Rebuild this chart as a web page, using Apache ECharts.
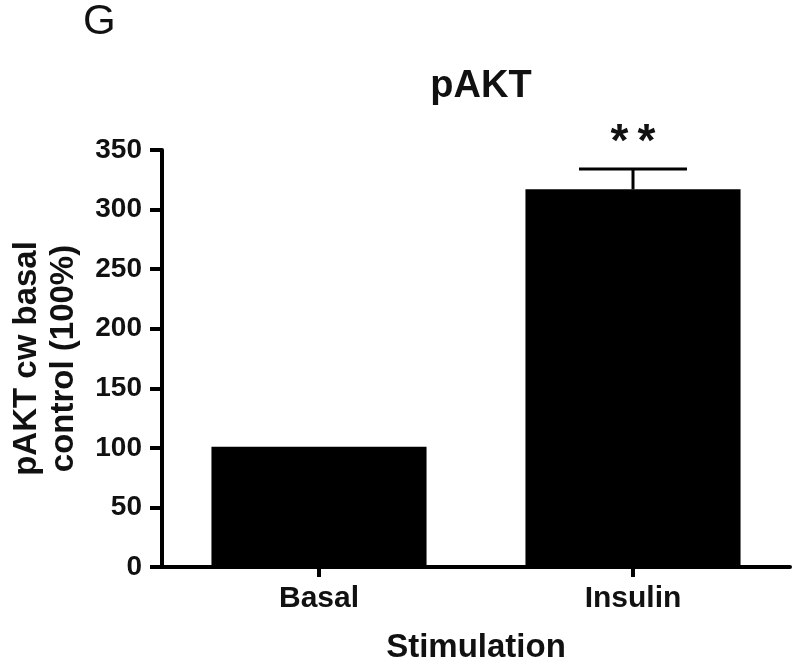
<!DOCTYPE html>
<html>
<head>
<meta charset="utf-8">
<script src="https://cdn.jsdelivr.net/npm/echarts@6/dist/echarts.min.js"></script>
<style>
html,body{margin:0;padding:0;background:#fff;}
#chart{width:800px;height:669px;}
</style>
</head>
<body>
<div id="chart"></div>
<script>
var categories = ['Basal', 'Insulin'];
var means = [101, 317];
var sems = [0, 17];
var significance = ['', '*\u2009*'];
var yTicks = [0, 50, 100, 150, 200, 250, 300, 350];

var FONT = "'Liberation Sans', Arial, sans-serif";
var chart = echarts.init(document.getElementById('chart'), null, {renderer: 'canvas'});

var errData = categories.map(function (c, i) { return [i, means[i], sems[i]]; });

chart.setOption({
  animation: false,
  backgroundColor: '#fff',
  title: [
    {text: 'G', left: 78, top: -4, textStyle: {fontFamily: FONT, fontSize: 42, fontWeight: 'normal', color: '#111'}},
    {text: 'pAKT', left: 476, textAlign: 'center', top: 63, textStyle: {fontFamily: FONT, fontSize: 38, fontWeight: 'bold', color: '#111'}}
  ],
  grid: {left: 157, right: 10, top: 150, bottom: 99},
  xAxis: {
    type: 'category',
    data: categories,
    name: 'Stimulation',
    nameLocation: 'middle',
    nameGap: 64,
    nameTextStyle: {fontFamily: FONT, fontSize: 33, fontWeight: 'bold', color: '#111', verticalAlign: 'top'},
    axisLine: {lineStyle: {color: '#000', width: 4}},
    axisTick: {show: true, alignWithLabel: true, length: 10, lineStyle: {color: '#000', width: 4}},
    axisLabel: {fontFamily: FONT, fontSize: 30, fontWeight: 'bold', color: '#111', margin: 17}
  },
  yAxis: {
    type: 'value',
    min: yTicks[0],
    max: yTicks[yTicks.length - 1],
    interval: 50,
    name: 'pAKT cw basal\ncontrol (100%)',
    nameLocation: 'middle',
    nameRotate: 90,
    nameGap: 80,
    nameTextStyle: {fontFamily: FONT, fontSize: 33, fontWeight: 'bold', color: '#111', lineHeight: 37},
    splitLine: {show: false},
    axisLine: {show: true, lineStyle: {color: '#000', width: 4}},
    axisTick: {show: true, length: 12, lineStyle: {color: '#000', width: 4}},
    axisLabel: {fontFamily: FONT, fontSize: 28, fontWeight: 'bold', color: '#111', margin: 20}
  },
  series: [
    {
      type: 'bar',
      data: means,
      barWidth: '68.5%',
      itemStyle: {color: '#000'},
      z: 2
    },
    {
      type: 'custom',
      data: errData,
      z: 3,
      renderItem: function (params, api) {
        var idx = api.value(0);
        var m = api.value(1);
        var s = api.value(2);
        var sig = significance[idx];
        var base = api.coord([idx, m]);
        var top = api.coord([idx, m + s]);
        var children = [];
        if (s > 0) {
          children.push({type: 'line', shape: {x1: base[0], y1: base[1], x2: top[0], y2: top[1]}, style: {stroke: '#000', lineWidth: 3}});
          children.push({type: 'line', shape: {x1: top[0] - 54, y1: top[1], x2: top[0] + 54, y2: top[1]}, style: {stroke: '#000', lineWidth: 3}});
        }
        if (sig) {
          children.push({type: 'text', x: top[0], y: top[1] - 3, style: {text: sig, fill: '#111', font: 'bold 46px ' + FONT, textAlign: 'center', textVerticalAlign: 'bottom'}});
        }
        return {type: 'group', children: children};
      }
    }
  ]
});
</script>
</body>
</html>
